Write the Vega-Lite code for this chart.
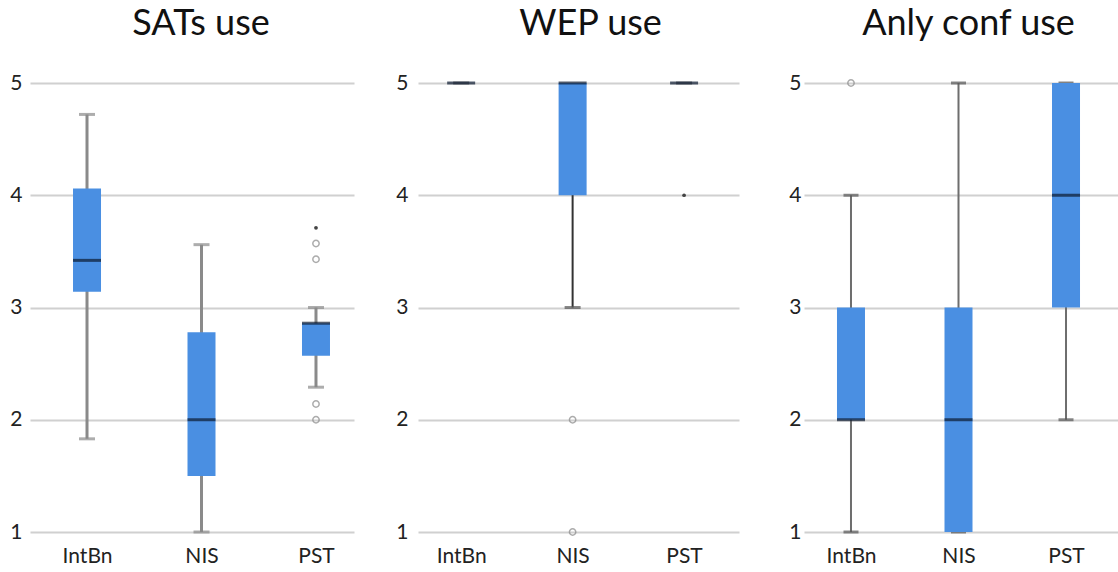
{
  "$schema": "https://vega.github.io/schema/vega-lite/v6.json",
  "padding": {"left": 9, "top": 6, "right": 0, "bottom": 0},
  "spacing": 40,
  "background": "white",
  "config": {
    "view": {"stroke": null},
    "title": {"font": "Lato", "fontSize": 36, "fontWeight": "normal", "color": "#111111", "anchor": "middle", "baseline": "alphabetic", "offset": 29},
    "axis": {"labelFont": "Lato", "labelFontSize": 21, "labelColor": "#222222", "ticks": false, "domain": false, "title": null},
    "axisY": {"grid": true, "gridColor": "#d0d0d0", "gridWidth": 2},
    "axisX": {"grid": false, "labelAngle": 0, "labelPadding": 13}
  },
  "datasets": {
    "boxes": [
      {"panel": "SATs use", "group": "IntBn", "min": 1.83, "q1": 3.14, "median": 3.42, "q3": 4.06, "max": 4.72},
      {"panel": "SATs use", "group": "NIS", "min": 1.0, "q1": 1.5, "median": 2.0, "q3": 2.78, "max": 3.56},
      {"panel": "SATs use", "group": "PST", "min": 2.29, "q1": 2.57, "median": 2.86, "q3": 2.86, "max": 3.0},
      {"panel": "WEP use", "group": "IntBn", "min": 5, "q1": 5, "median": 5, "q3": 5, "max": 5},
      {"panel": "WEP use", "group": "NIS", "min": 3, "q1": 4, "median": 5, "q3": 5, "max": 5},
      {"panel": "WEP use", "group": "PST", "min": 5, "q1": 5, "median": 5, "q3": 5, "max": 5},
      {"panel": "Anly conf use", "group": "IntBn", "min": 1, "q1": 2, "median": 2, "q3": 3, "max": 4},
      {"panel": "Anly conf use", "group": "NIS", "min": 1, "q1": 1, "median": 2, "q3": 3, "max": 5},
      {"panel": "Anly conf use", "group": "PST", "min": 2, "q1": 3, "median": 4, "q3": 5, "max": 5}
    ],
    "outliers": [
      {"panel": "SATs use", "group": "PST", "value": 2.0, "kind": "outlier"},
      {"panel": "SATs use", "group": "PST", "value": 2.14, "kind": "outlier"},
      {"panel": "SATs use", "group": "PST", "value": 3.43, "kind": "outlier"},
      {"panel": "SATs use", "group": "PST", "value": 3.57, "kind": "outlier"},
      {"panel": "SATs use", "group": "PST", "value": 3.71, "kind": "extreme"},
      {"panel": "WEP use", "group": "NIS", "value": 2, "kind": "outlier"},
      {"panel": "WEP use", "group": "NIS", "value": 1, "kind": "outlier"},
      {"panel": "WEP use", "group": "PST", "value": 4, "kind": "extreme"},
      {"panel": "Anly conf use", "group": "IntBn", "value": 5, "kind": "outlier"}
    ]
  },
  "hconcat": [
    {
      "width": 324, "height": 449,
      "title": {"text": "SATs use", "dx": 9},
      "data": {"name": "boxes"},
      "transform": [{"filter": "datum.panel === 'SATs use'"}],
      "encoding": {
        "x": {"field": "group", "type": "nominal", "sort": ["IntBn", "NIS", "PST"], "scale": {"type": "point", "padding": 0.415, "align": 0.6}}
      },
      "layer": [
        {"mark": {"type": "rule", "color": "#8a8a8a", "strokeWidth": 3},
         "encoding": {"y": {"field": "min", "type": "quantitative", "scale": {"domain": [1, 5], "nice": false, "zero": false}, "axis": {"values": [1, 2, 3, 4, 5], "format": "d", "labelPadding": 8, "minExtent": 20}}, "y2": {"field": "max"}}},
        {"mark": {"type": "tick", "color": "#8a8a8a", "size": 16, "thickness": 3}, "encoding": {"y": {"field": "min", "type": "quantitative"}}},
        {"mark": {"type": "tick", "color": "#8a8a8a", "size": 16, "thickness": 3}, "encoding": {"y": {"field": "max", "type": "quantitative"}}},
        {"mark": {"type": "bar", "size": 28, "color": "#4a8fe2"}, "encoding": {"y": {"field": "q1", "type": "quantitative"}, "y2": {"field": "q3"}}},
        {"mark": {"type": "tick", "color": "#0c1a30", "size": 28, "thickness": 3}, "encoding": {"y": {"field": "median", "type": "quantitative"}}},
        {"data": {"name": "outliers"}, "transform": [{"filter": "datum.panel === 'SATs use' && datum.kind === 'outlier'"}],
         "mark": {"type": "point", "shape": "circle", "filled": false, "color": "#8a8a8a", "strokeWidth": 1.5, "size": 40},
         "encoding": {"y": {"field": "value", "type": "quantitative"}}},
        {"data": {"name": "outliers"}, "transform": [{"filter": "datum.panel === 'SATs use' && datum.kind === 'extreme'"}],
         "mark": {"type": "point", "shape": "circle", "filled": true, "color": "#444444", "opacity": 1, "size": 14},
         "encoding": {"y": {"field": "value", "type": "quantitative"}}}
      ]
    },
    {
      "width": 321, "height": 449,
      "title": {"text": "WEP use", "dx": 12},
      "data": {"name": "boxes"},
      "transform": [{"filter": "datum.panel === 'WEP use'"}],
      "encoding": {
        "x": {"field": "group", "type": "nominal", "sort": ["IntBn", "NIS", "PST"], "scale": {"type": "point", "padding": 0.44, "align": 0.44}}
      },
      "layer": [
        {"mark": {"type": "rule", "color": "#333333", "strokeWidth": 2},
         "encoding": {"y": {"field": "min", "type": "quantitative", "scale": {"domain": [1, 5], "nice": false, "zero": false}, "axis": {"values": [1, 2, 3, 4, 5], "format": "d", "labelPadding": 10, "minExtent": 24}}, "y2": {"field": "max"}}},
        {"mark": {"type": "tick", "color": "#555555", "size": 16, "thickness": 3}, "encoding": {"y": {"field": "min", "type": "quantitative"}}},
        {"mark": {"type": "bar", "size": 28, "color": "#4a8fe2"}, "encoding": {"y": {"field": "q1", "type": "quantitative"}, "y2": {"field": "q3"}}},
        {"mark": {"type": "tick", "color": "#0c1a30", "size": 28, "thickness": 3}, "encoding": {"y": {"field": "median", "type": "quantitative"}}},
        {"data": {"name": "outliers"}, "transform": [{"filter": "datum.panel === 'WEP use' && datum.kind === 'outlier'"}],
         "mark": {"type": "point", "shape": "circle", "filled": false, "color": "#8a8a8a", "strokeWidth": 1.5, "size": 40},
         "encoding": {"y": {"field": "value", "type": "quantitative"}}},
        {"data": {"name": "outliers"}, "transform": [{"filter": "datum.panel === 'WEP use' && datum.kind === 'extreme'"}],
         "mark": {"type": "point", "shape": "circle", "filled": true, "color": "#444444", "opacity": 1, "size": 14},
         "encoding": {"y": {"field": "value", "type": "quantitative"}}}
      ]
    },
    {
      "width": 315, "height": 449,
      "title": {"text": "Anly conf use", "dx": 7},
      "data": {"name": "boxes"},
      "transform": [{"filter": "datum.panel === 'Anly conf use'"}],
      "encoding": {
        "x": {"field": "group", "type": "nominal", "sort": ["IntBn", "NIS", "PST"], "scale": {"type": "point", "padding": 0.465, "align": 0.47}}
      },
      "layer": [
        {"mark": {"type": "rule", "color": "#6e6e6e", "strokeWidth": 2},
         "encoding": {"y": {"field": "min", "type": "quantitative", "scale": {"domain": [1, 5], "nice": false, "zero": false}, "axis": {"values": [1, 2, 3, 4, 5], "format": "d", "labelPadding": 3, "minExtent": 25}}, "y2": {"field": "max"}}},
        {"mark": {"type": "tick", "color": "#555555", "size": 15, "thickness": 3}, "encoding": {"y": {"field": "min", "type": "quantitative"}}},
        {"mark": {"type": "tick", "color": "#555555", "size": 15, "thickness": 3}, "encoding": {"y": {"field": "max", "type": "quantitative"}}},
        {"mark": {"type": "bar", "size": 28, "color": "#4a8fe2"}, "encoding": {"y": {"field": "q1", "type": "quantitative"}, "y2": {"field": "q3"}}},
        {"mark": {"type": "tick", "color": "#0c1a30", "size": 28, "thickness": 3}, "encoding": {"y": {"field": "median", "type": "quantitative"}}},
        {"data": {"name": "outliers"}, "transform": [{"filter": "datum.panel === 'Anly conf use' && datum.kind === 'outlier'"}],
         "mark": {"type": "point", "shape": "circle", "filled": false, "color": "#8a8a8a", "strokeWidth": 1.5, "size": 40},
         "encoding": {"y": {"field": "value", "type": "quantitative"}}}
      ]
    }
  ]
}
